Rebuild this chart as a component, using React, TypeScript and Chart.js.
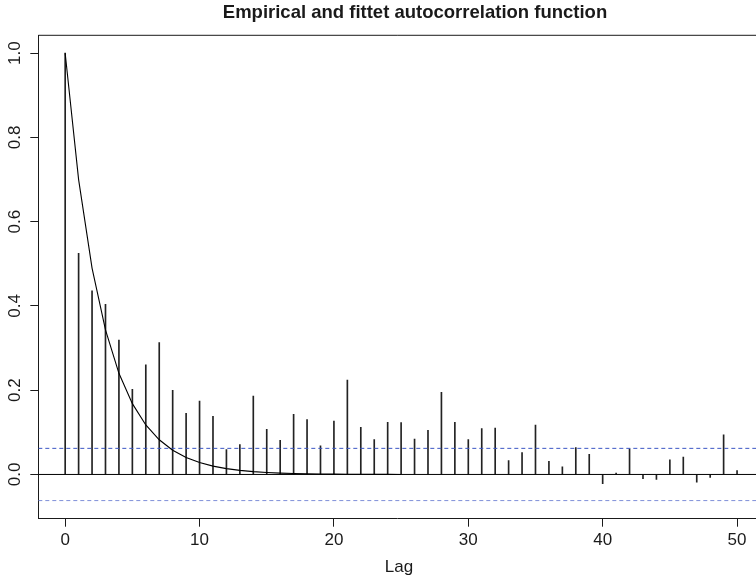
import React, { useEffect, useRef } from "react";
import { Chart, registerables } from "chart.js";

Chart.register(...registerables);

const titleText = "Empirical and fittet autocorrelation function";
const xAxisTitle = "Lag";

const lags = [
  0, 1, 2, 3, 4, 5, 6, 7, 8, 9, 10, 11, 12, 13, 14, 15, 16, 17, 18, 19, 20, 21, 22, 23, 24, 25,
  26, 27, 28, 29, 30, 31, 32, 33, 34, 35, 36, 37, 38, 39, 40, 41, 42, 43, 44, 45, 46, 47, 48, 49, 50,
];

const acfValues = [
  1.0, 0.525, 0.436, 0.404, 0.319, 0.202, 0.26, 0.313, 0.2, 0.145,
  0.174, 0.138, 0.059, 0.071, 0.186, 0.107, 0.081, 0.143, 0.13, 0.068,
  0.127, 0.224, 0.112, 0.083, 0.124, 0.123, 0.084, 0.105, 0.195, 0.124,
  0.083, 0.109, 0.11, 0.033, 0.052, 0.117, 0.031, 0.018, 0.064, 0.048,
  -0.022, 0.003, 0.061, -0.01, -0.012, 0.035, 0.041, -0.018, -0.007, 0.094, 0.009,
];

const fittedValues = [
  1.0, 0.7, 0.49, 0.343, 0.2401, 0.1681, 0.1176, 0.0824, 0.0576, 0.0404,
  0.0282, 0.0198, 0.0138, 0.0097, 0.0068, 0.0047, 0.0033, 0.0023, 0.0016, 0.0011,
  0.0008, 0.0006, 0.0004, 0.0003, 0.0002, 0.0001,
];

const confLimit = 0.062;
const xTicks = [0, 10, 20, 30, 40, 50];
const yTicks = [0.0, 0.2, 0.4, 0.6, 0.8, 1.0];
const yTickLabels = ["0.0", "0.2", "0.4", "0.6", "0.8", "1.0"];

const X_MIN = -2;
const X_MAX = 51.41;
const Y_MIN = -0.105;
const Y_MAX = 1.0425;

const FONT = "'Liberation Sans', Arial, sans-serif";
const INK = "#1a1a1a";

const decorPlugin = {
  id: "decor",
  afterDraw(chart: any) {
    const { ctx, chartArea, scales } = chart;
    const y = scales.y;
    ctx.save();
    ctx.strokeStyle = INK;
    ctx.lineWidth = 1;
    ctx.beginPath();
    ctx.moveTo(chartArea.left, chartArea.top);
    ctx.lineTo(chartArea.right, chartArea.top);
    ctx.stroke();
    ctx.fillStyle = INK;
    ctx.font = `17px ${FONT}`;
    ctx.textAlign = "center";
    ctx.textBaseline = "middle";
    yTicks.forEach((v, i) => {
      const py = y.getPixelForValue(v);
      ctx.save();
      ctx.translate(15.5, py);
      ctx.rotate(-Math.PI / 2);
      ctx.fillText(yTickLabels[i], 0, 0);
      ctx.restore();
    });
    ctx.font = `17px ${FONT}`;
    ctx.fillText(xAxisTitle, 399, 567);
    ctx.font = `bold 18.5px ${FONT}`;
    ctx.fillText(titleText, 415, 13);
    ctx.restore();
  },
};

export default function App() {
  const canvasRef = useRef<HTMLCanvasElement | null>(null);

  useEffect(() => {
    if (!canvasRef.current) return;
    const stickData = lags.map((l, i) => ({ x: l, y: acfValues[i] }));
    const fitData = fittedValues.map((v, i) => ({ x: lags[i], y: v }));
    const chart = new Chart(canvasRef.current, {
      type: "bar",
      data: {
        datasets: [
          {
            type: "line",
            data: fitData,
            borderColor: "#000",
            borderWidth: 1.1,
            pointRadius: 0,
            tension: 0,
            fill: false,
          } as any,
          {
            type: "line",
            data: [
              { x: X_MIN, y: confLimit },
              { x: X_MAX, y: confLimit },
            ],
            borderColor: "#3a55c4",
            borderWidth: 1,
            borderDash: [4, 3],
            pointRadius: 0,
            fill: false,
          } as any,
          {
            type: "line",
            data: [
              { x: X_MIN, y: -confLimit },
              { x: X_MAX, y: -confLimit },
            ],
            borderColor: "#7f90d8",
            borderWidth: 1,
            borderDash: [4, 3],
            pointRadius: 0,
            fill: false,
          } as any,
          {
            type: "line",
            data: [
              { x: X_MIN, y: 0 },
              { x: X_MAX, y: 0 },
            ],
            borderColor: "#000",
            borderWidth: 1,
            pointRadius: 0,
            fill: false,
          } as any,
          {
            type: "bar",
            data: stickData,
            backgroundColor: "#222",
            borderWidth: 0,
            barThickness: 1,
          } as any,
        ],
      },
      options: {
        animation: false,
        responsive: true,
        maintainAspectRatio: false,
        layout: { padding: { top: 35.3, right: 0, left: 0, bottom: 0 } },
        plugins: {
          legend: { display: false },
          tooltip: { enabled: false },
          title: { display: false },
        },
        scales: {
          x: {
            type: "linear",
            offset: false,
            min: X_MIN,
            max: X_MAX,
            afterBuildTicks: (s: any) => {
              s.ticks = xTicks.map((v) => ({ value: v }));
            },
            afterFit: (s: any) => {
              s.height = 578 - 518.7;
            },
            ticks: {
              color: INK,
              font: { family: FONT, size: 17 },
              padding: 3,
              maxRotation: 0,
              autoSkip: false,
              callback: (v: any) => String(v),
            },
            grid: {
              display: true,
              offset: false,
              drawOnChartArea: false,
              drawTicks: true,
              tickLength: 8,
              color: INK,
              lineWidth: 1,
            },
            border: { display: true, color: INK, width: 1 },
          },
          y: {
            type: "linear",
            min: Y_MIN,
            max: Y_MAX,
            afterBuildTicks: (s: any) => {
              s.ticks = yTicks.map((v) => ({ value: v }));
            },
            afterFit: (s: any) => {
              s.width = 38.3;
            },
            ticks: { display: false },
            grid: {
              display: true,
              drawOnChartArea: false,
              drawTicks: true,
              tickLength: 8,
              color: INK,
              lineWidth: 1,
            },
            border: { display: true, color: INK, width: 1 },
          },
        },
      },
      plugins: [decorPlugin],
    });
    return () => chart.destroy();
  }, []);

  return (
    <div
      style={{
        position: "absolute",
        left: 0,
        top: 0,
        width: 756,
        height: 578,
        background: "#fff",
      }}
    >
      <canvas ref={canvasRef} />
    </div>
  );
}
